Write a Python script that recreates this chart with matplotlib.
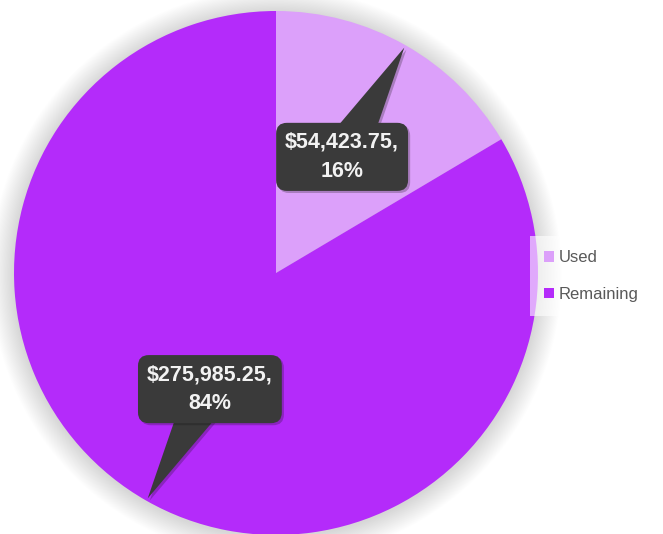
import numpy as np
import matplotlib
matplotlib.use("Agg")
import matplotlib.pyplot as plt
from matplotlib.patches import Circle, Polygon
import matplotlib.patheffects as pe

# ── data ──────────────────────────────────────────────────────────────────────
labels = ["Used", "Remaining"]
amounts = [54423.75, 275985.25]
colors = ["#DCA0FA", "#B42BFA"]

CALLOUT = "#3A3A3A"

fig = plt.figure(figsize=(6.63, 5.34), dpi=100)
fig.patch.set_facecolor("white")
# square axes holding the pie, radius 1 in data units
ax = fig.add_axes([14 / 663, -1 / 534, 524 / 663, 524 / 534])

wedges, _ = ax.pie(amounts, colors=colors, startangle=90, counterclock=False,
                   radius=1, wedgeprops=dict(linewidth=0))
ax.set_xlim(-1, 1)
ax.set_ylim(-1, 1)
ax.set_aspect("equal")
ax.axis("off")

# soft glow around the pie
for i in range(20):
    ax.add_patch(Circle((0, -0.005), 1 + 0.0045 * (i + 1), fc="#808080",
                        ec="none", alpha=0.012, zorder=0, clip_on=False))

# dark callouts: box halfway out, pointer to the rim at the wedge's mid-angle
total = sum(amounts)
for w, amt in zip(wedges, amounts):
    mid = np.deg2rad((w.theta1 + w.theta2) / 2)
    d = np.array([np.cos(mid), np.sin(mid)])
    perp = np.array([-d[1], d[0]])
    tip = 0.99 * d
    box = 0.51 * d
    ptr = Polygon([box + 0.09 * perp, box - 0.09 * perp, tip], closed=True,
                  fc=CALLOUT, ec="none", zorder=3)
    ptr.set_path_effects([pe.SimplePatchShadow(offset=(1.5, -1.5), alpha=0.25),
                          pe.Normal()])
    ax.add_patch(ptr)
    t = ax.text(box[0], box[1], f"${amt:,.2f},\n{amt / total:.0%}",
                ha="center", va="center", color="#F2F2F2", fontsize=15.5,
                fontweight="bold", family="Liberation Sans", linespacing=1.5,
                zorder=4,
                bbox=dict(boxstyle="round,pad=0.42,rounding_size=0.5",
                          fc=CALLOUT, ec="none"))
    t.get_bbox_patch().set_path_effects(
        [pe.SimplePatchShadow(offset=(1.5, -1.5), alpha=0.25), pe.Normal()])

leg = fig.legend(wedges, labels, loc="center left",
                 bbox_to_anchor=(530 / 663, 1 - 276 / 534),
                 frameon=True, fancybox=False, framealpha=0.6,
                 facecolor="white", edgecolor="none",
                 handlelength=0.6, handleheight=0.6, handletextpad=0.25,
                 labelspacing=1.3, borderpad=0.85, borderaxespad=0,
                 prop=dict(family="Liberation Sans", size=12),
                 labelcolor="#595959")

fig.savefig("out.png", dpi=100)
